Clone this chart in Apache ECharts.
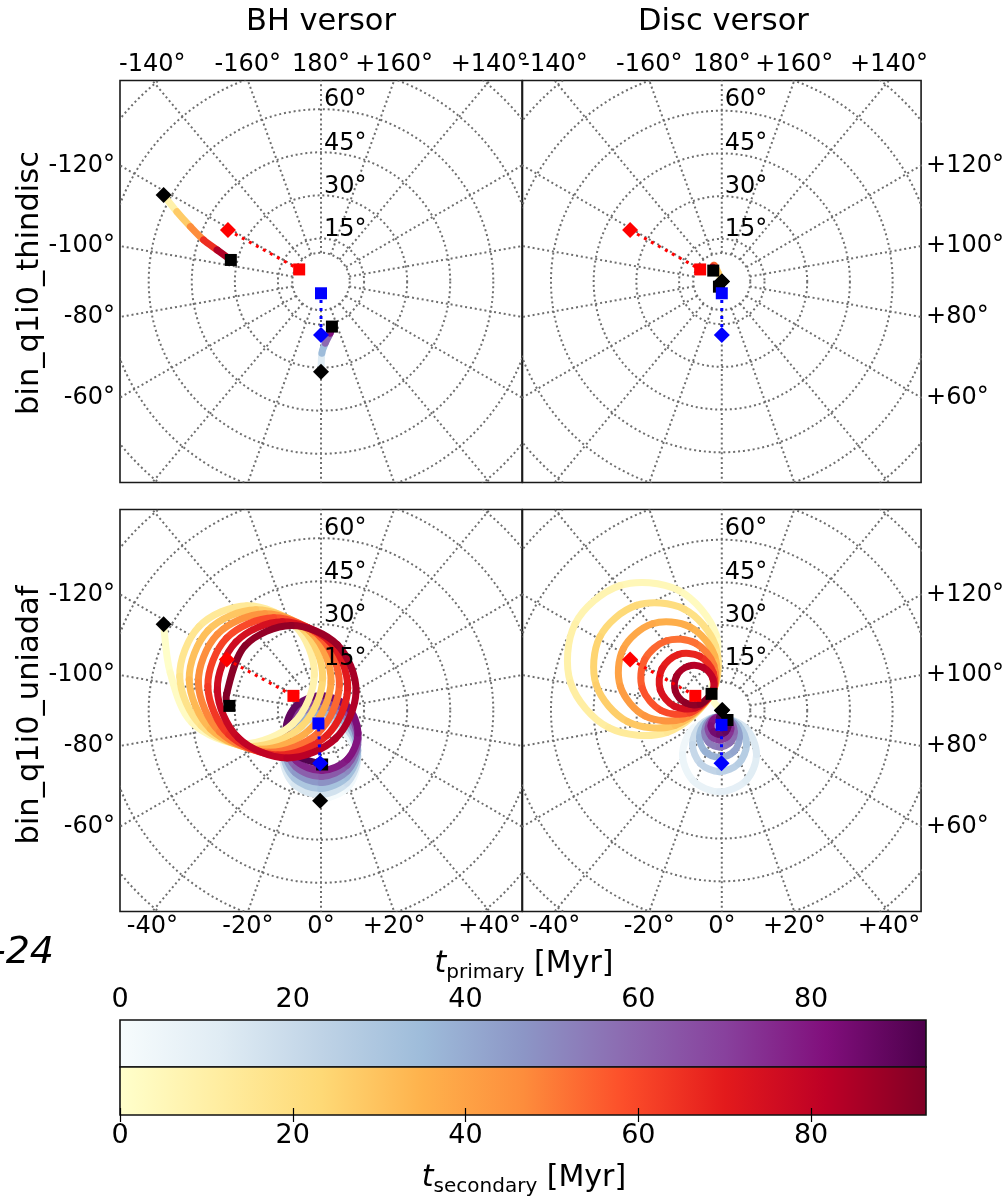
<!DOCTYPE html>
<html>
<head>
<meta charset="utf-8">
<script src="https://cdn.jsdelivr.net/npm/echarts@6/dist/echarts.min.js"></script>
<style>
html,body{margin:0;padding:0;background:#fff;}
#main{width:1007px;height:1197px;}
</style>
</head>
<body>
<div id="main"></div>
<script>
// ---------- grid / tick values ----------
const tMax = 93.3;                                   // Myr, colour scale limit
const colatRings = [10, 15, 30, 45, 60, 75, 90];      // parallels (deg from pole)
const ringLabels = [15, 30, 45, 60];
const meridians = [-180,-160,-140,-120,-100,-80,-60,-40,-20,0,20,40,60,80,100,120,140,160];
const topLonTicks = [-140, -160, 180, 160, 140];
const bottomLonTicks = [-40, -20, 0, 20, 40];
const leftLonTicks = [-120, -100, -80, -60];
const rightLonTicks = [120, 100, 80, 60];
const cbarTicks = [0, 20, 40, 60, 80];

// ---------- tracks: [x, y, t] on the azimuthal plane (deg), t in Myr ----------
// bin_q1i0_thindisc, BH versor
const thinBhSecondary = [[-54.8,30.1,0],[-50.2,24.3,18],[-45.5,19.1,37],[-40.9,14.5,56],[-36.2,11.0,75],[-31.4,7.5,93.3]];
const thinBhPrimary = [[0,-31.4,0],[0.3,-25.0,23],[1.5,-21.5,47],[3.2,-18.0,70],[3.8,-15.7,93.3]];
const thinBhStart = [[-54.8,30.1],[0,-31.4]];
const thinBhEnd = [[-31.4,7.5],[3.8,-15.7]];
const thinBhRedAxis = [[-32.4,17.9],[-7.6,4.2]];
const thinBhBlueAxis = [[0,-18.6],[0,-4.1]];

// bin_q1i0_thindisc, disc versor
const thinDiscSecondary = [[0,0,0],[-1.2,3.0,15],[-2.6,5.6,40],[-3.2,5.0,70],[-3.0,3.8,93.3]];
const thinDiscPrimary = [[0,0,0],[-0.5,-1.0,45],[-1.0,-1.8,93.3]];
const thinDiscStart = [[0.1,0],[0,0]];
const thinDiscEnd = [[-3.0,3.8],[-1.0,-1.8]];
const thinDiscRedAxis = [[-32.2,17.9],[-7.6,4.2]];
const thinDiscBlueAxis = [[0,-18.6],[0,-4.1]];

// bin_q1i0_uniadaf, BH versor
const adafBhSecondary = [[-54.8,30.0,0],
 [-52.5,13.1,1.5],[-44.9,-4.3,3.4],[-27.3,-11.6,5.3],[-9.7,-4.5,7.2],[-2.3,12.5,9.1],[-9.0,29.5,11.0],[-25.8,36.5,12.9],[-42.5,29.2,14.8],
 [-49.2,11.9,16.7],[-41.7,-5.3,18.6],[-24.3,-12.5,20.5],[-6.8,-5.6,22.4],[0.6,11.3,24.3],[-6.1,28.2,26.1],[-22.7,35.1,28.0],[-39.3,27.9,29.9],
 [-45.9,10.7,31.8],[-38.5,-6.4,33.7],[-21.2,-13.5,35.6],[-3.9,-6.6,37.5],[3.5,10.1,39.4],[-3.1,26.9,41.3],[-19.6,33.7,43.2],[-36.1,26.5,45.1],
 [-42.7,9.6,47.0],[-35.3,-7.4,48.9],[-18.1,-14.5,50.8],[-0.9,-7.7,52.7],[6.4,9.0,54.6],[-0.2,25.6,56.5],[-16.5,32.3,58.4],[-32.9,25.2,60.3],
 [-39.4,8.4,62.2],[-32.1,-8.4,64.1],[-15.0,-15.5,66.0],[2.0,-8.7,67.9],[9.3,7.8,69.7],[2.8,24.2,71.6],[-13.5,30.9,73.5],[-29.6,23.9,75.4],
 [-36.1,7.2,77.3],[-28.8,-9.5,79.2],[-11.9,-16.5,81.1],[5.0,-9.8,83.0],[12.2,6.6,84.9],[5.7,22.9,86.8],[-10.4,29.6,88.7],[-26.4,22.6,90.6],
 [-32.8,6.0,92.5],[-31.9,1.6,93.3]];
const adafBhPrimary = [
 [-0.3,-31.4,0],[8.9,-27.3,1.9],[12.7,-17.9,3.9],[8.9,-8.5,5.8],[-0.2,-4.4,7.8],[-9.4,-8.0,9.7],[-13.2,-16.9,11.7],[-9.3,-25.8,13.6],
 [-0.2,-29.3,15.6],[9.0,-25.3,17.5],[12.8,-15.9,19.4],[9.0,-6.5,21.4],[-0.1,-2.5,23.3],[-9.2,-6.0,25.3],[-13.0,-14.9,27.2],[-9.2,-23.7,29.2],
 [-0.1,-27.2,31.1],[9.0,-23.2,33.0],[12.8,-13.9,35.0],[9.0,-4.6,36.9],[0.0,-0.6,38.9],[-9.0,-4.1,40.8],[-12.8,-12.9,42.8],[-9.0,-21.6,44.7],
 [0.1,-25.1,46.7],[9.1,-21.1,48.6],[12.8,-11.9,50.5],[9.1,-2.6,52.5],[0.1,1.4,54.4],[-8.9,-2.1,56.4],[-12.6,-10.8,58.3],[-8.8,-19.6,60.3],
 [0.2,-23.0,62.2],[9.1,-19.0,64.1],[12.9,-9.8,66.1],[9.1,-0.6,68.0],[0.2,3.3,70.0],[-8.7,-0.2,71.9],[-12.4,-8.8,73.9],[-8.6,-17.5,75.8],
 [0.3,-20.9,77.8],[9.2,-17.0,79.7],[12.9,-7.8,81.6],[9.2,1.3,83.6],[0.3,5.2,85.5],[-8.5,1.8,87.5],[-12.2,-6.8,89.4],[-8.5,-15.4,91.4],
 [0.4,-18.8,93.3]];
const adafBhStart = [[-54.8,30.0],[-0.3,-31.4]];
const adafBhEnd = [[-31.9,1.6],[0.4,-18.8]];
const adafBhRedAxis = [[-32.8,17.8],[-9.6,5.1]];
const adafBhBlueAxis = [[-0.3,-18.4],[-0.9,-4.5]];

// bin_q1i0_uniadaf, disc versor
const adafDiscSecondary = [[0.2,0.2,0],[-3.6,5.8,0.5],
 [-1.9,26.2,2.4],[-15.3,41.9,4.4],[-35.8,43.5,6.3],[-51.5,30.2,8.2],[-53.1,9.6,10.2],[-39.7,-6.0,12.1],[-19.2,-7.6,14.0],[-3.6,5.8,16.0],
 [-2.2,22.5,17.9],[-13.2,35.3,19.8],[-30.0,36.6,21.8],[-42.8,25.7,23.7],[-44.1,8.9,25.6],[-33.1,-3.9,27.6],[-16.4,-5.2,29.5],[-3.6,5.8,31.4],
 [-2.5,19.0,33.4],[-11.2,29.1,35.3],[-24.4,30.2,37.2],[-34.6,21.5,39.2],[-35.6,8.3,41.1],[-27.0,-1.9,43.0],[-13.7,-2.9,45.0],[-3.6,5.8,46.9],
 [-2.8,15.8,48.8],[-9.3,23.5,50.8],[-19.4,24.3,52.7],[-27.1,17.7,54.6],[-27.9,7.7,56.6],[-21.3,0.0,58.5],[-11.2,-0.8,60.4],[-3.6,5.8,62.4],
 [-3.0,13.2,64.3],[-7.8,18.9,66.2],[-15.3,19.5,68.2],[-21.0,14.6,70.1],[-21.6,7.2,72.0],[-16.7,1.5,74.0],[-9.3,0.9,75.9],[-3.6,5.8,77.8],
 [-3.1,11.0,79.8],[-6.6,15.0,81.7],[-11.8,15.4,83.6],[-15.9,12.0,85.6],[-16.3,6.7,87.5],[-12.8,2.7,89.4],[-7.6,2.3,91.4],[-3.6,5.8,93.3]];
const adafDiscPrimary = [[0,0,0],[-0.8,-2.3,0.5],
 [-10.0,-6.1,2.4],[-13.8,-15.3,4.4],[-10.0,-24.5,6.3],[-0.8,-28.3,8.2],[8.4,-24.5,10.2],[12.2,-15.3,12.1],[8.4,-6.1,14.0],[-0.8,-2.3,16.0],
 [-7.5,-5.1,17.9],[-10.3,-11.8,19.8],[-7.5,-18.5,21.8],[-0.8,-21.3,23.7],[5.9,-18.5,25.6],[8.7,-11.8,27.6],[5.9,-5.1,29.5],[-0.8,-2.3,31.4],
 [-5.8,-4.4,33.4],[-7.8,-9.3,35.3],[-5.8,-14.3,37.2],[-0.8,-16.3,39.2],[4.2,-14.3,41.1],[6.2,-9.3,43.0],[4.2,-4.4,45.0],[-0.8,-2.3,46.9],
 [-4.5,-3.8,48.8],[-6.0,-7.5,50.8],[-4.5,-11.2,52.7],[-0.8,-12.7,54.6],[2.9,-11.2,56.6],[4.4,-7.5,58.5],[2.9,-3.8,60.4],[-0.8,-2.3,62.4],
 [-3.6,-3.5,64.3],[-4.8,-6.3,66.2],[-3.6,-9.1,68.2],[-0.8,-10.3,70.1],[2.0,-9.1,72.0],[3.2,-6.3,74.0],[2.0,-3.5,75.9],[-0.8,-2.3,77.8],
 [-2.9,-3.2,79.8],[-3.8,-5.3,81.7],[-2.9,-7.4,83.6],[-0.8,-8.3,85.6],[1.3,-7.4,87.5],[2.2,-5.3,89.4],[1.3,-3.2,91.4],[-0.8,-2.3,93.3]];
const adafDiscStart = [[0.2,0.2],[0,0]];
const adafDiscEnd = [[-3.6,5.8],[2.0,-3.3]];
const adafDiscRedAxis = [[-32.2,17.8],[-9.3,5.1]];
const adafDiscBlueAxis = [[-0.1,-18.4],[-0.1,-5.0]];

// ---------- styling ----------
const FONT = 'DejaVu Sans';
const YlOrRd = ['#ffffcc','#ffeda0','#fed976','#feb24c','#fd8d3c','#fc4e2a','#e31a1c','#bd0026','#800026'];
const BuPu = ['#f7fcfd','#e0ecf4','#bfd3e6','#9ebcda','#8c96c6','#8c6bb1','#88419d','#810f7c','#4d004b'];
const SPAN = 70;          // half extent of each panel (deg on the projection plane)
const PANEL = 402;        // panel size in px
const panelBoxes = [
  {left: 120, top: 80.5, xPos: 'top', yPos: 'left'},
  {left: 522.5, top: 80.5, xPos: 'top', yPos: 'right'},
  {left: 120, top: 509.5, xPos: 'bottom', yPos: 'left'},
  {left: 522.5, top: 509.5, xPos: 'bottom', yPos: 'right'}
];
const panels = [
  {sec: thinBhSecondary, pri: thinBhPrimary, start: thinBhStart, end: thinBhEnd, red: thinBhRedAxis, blue: thinBhBlueAxis},
  {sec: thinDiscSecondary, pri: thinDiscPrimary, start: thinDiscStart, end: thinDiscEnd, red: thinDiscRedAxis, blue: thinDiscBlueAxis},
  {sec: adafBhSecondary, pri: adafBhPrimary, start: adafBhStart, end: adafBhEnd, red: adafBhRedAxis, blue: adafBhBlueAxis},
  {sec: adafDiscSecondary, pri: adafDiscPrimary, start: adafDiscStart, end: adafDiscEnd, red: adafDiscRedAxis, blue: adafDiscBlueAxis}
];

const rad = d => d * Math.PI / 180;
const lonText = l => (l > 0 && l !== 180 ? '+' : '') + l + '\u00b0';

// where a meridian leaves the panel through each edge
const edgePos = {
  top: l => -SPAN * Math.tan(rad(l)),
  bottom: l => SPAN * Math.tan(rad(l)),
  left: l => SPAN / Math.tan(rad(l)),
  right: l => -SPAN / Math.tan(rad(l))
};
function edgeLabel(side, lons) {
  const pos = lons.map(edgePos[side]);
  return {
    values: pos,
    fmt: v => {
      let best = 0;
      pos.forEach((p, i) => { if (Math.abs(p - v) < Math.abs(pos[best] - v)) best = i; });
      return lonText(lons[best]);
    }
  };
}

// ---------- renderers ----------
const gridStyle = {fill: 'none', stroke: '#6e6e6e', lineWidth: 2, lineDash: [2, 2.9]};
function renderRing(params, api) {
  const c = api.coord([0, 0]);
  const r = api.size([api.value(2), 0])[0];
  return {type: 'circle', shape: {cx: c[0], cy: c[1], r: r}, style: gridStyle};
}
function renderSpoke(params, api) {
  const l = rad(api.value(2));
  const a = api.coord([colatRings[0] * Math.sin(l), -colatRings[0] * Math.cos(l)]);
  const b = api.coord([110 * Math.sin(l), -110 * Math.cos(l)]);
  return {type: 'line', shape: {x1: a[0], y1: a[1], x2: b[0], y2: b[1]}, style: gridStyle};
}
// coloured track segment, smoothed as a Catmull-Rom spline
function renderTrack(params, api) {
  const p0 = api.coord([api.value(0), api.value(1)]);
  const p1 = api.coord([api.value(2), api.value(3)]);
  const pa = api.coord([api.value(5), api.value(6)]);
  const pb = api.coord([api.value(7), api.value(8)]);
  return {
    type: 'bezierCurve',
    shape: {
      x1: p0[0], y1: p0[1], x2: p1[0], y2: p1[1],
      cpx1: p0[0] + (p1[0] - pa[0]) / 6, cpy1: p0[1] + (p1[1] - pa[1]) / 6,
      cpx2: p1[0] - (pb[0] - p0[0]) / 6, cpy2: p1[1] - (pb[1] - p0[1]) / 6
    },
    style: {fill: 'none', stroke: api.visual('color'), lineWidth: 7, lineCap: 'round'}
  };
}
function toSegments(pts) {
  const out = [], n = pts.length;
  for (let i = 0; i < n - 1; i++) {
    const a = pts[Math.max(i - 1, 0)], p0 = pts[i], p1 = pts[i + 1], b = pts[Math.min(i + 2, n - 1)];
    out.push([p0[0], p0[1], p1[0], p1[1], (p0[2] + p1[2]) / 2, a[0], a[1], b[0], b[1]]);
  }
  return out;
}

// ---------- build option ----------
const grids = [], xAxes = [], yAxes = [], series = [];
const redTracks = [], blueTracks = [];
const tickFont = {fontFamily: FONT, fontSize: 24, color: '#000'};

panelBoxes.forEach((b, i) => {
  grids.push({left: b.left, top: b.top, width: PANEL, height: PANEL, show: true,
    borderColor: '#1a1a1a', borderWidth: 1.6, backgroundColor: 'transparent'});
  const xl = edgeLabel(b.xPos, b.xPos === 'top' ? topLonTicks : bottomLonTicks);
  const yl = edgeLabel(b.yPos, b.yPos === 'left' ? leftLonTicks : rightLonTicks);
  xAxes.push({gridIndex: i, type: 'value', min: -SPAN, max: SPAN, position: b.xPos,
    axisLine: {show: false}, axisTick: {show: false}, splitLine: {show: false},
    axisLabel: Object.assign({customValues: xl.values, formatter: xl.fmt, margin: b.xPos === 'top' ? 4 : 3}, tickFont)});
  yAxes.push({gridIndex: i, type: 'value', min: -SPAN, max: SPAN, position: b.yPos,
    axisLine: {show: false}, axisTick: {show: false}, splitLine: {show: false},
    axisLabel: Object.assign({customValues: yl.values, formatter: yl.fmt, margin: 5}, tickFont)});

  const p = panels[i];
  const base = {xAxisIndex: i, yAxisIndex: i, silent: true, animation: false};
  series.push(Object.assign({type: 'custom', clip: true, z: 1, renderItem: renderRing,
    data: colatRings.map(c => [0, 0, c])}, base));
  series.push(Object.assign({type: 'custom', clip: true, z: 1, renderItem: renderSpoke,
    data: meridians.map(l => [0, 0, l])}, base));
  series.push(Object.assign({type: 'scatter', z: 6, symbolSize: 0,
    data: ringLabels.map(c => [0, c]),
    label: Object.assign({show: true, position: [3, -9], align: 'left', verticalAlign: 'middle',
      textBorderWidth: 0, opacity: 1, formatter: q => q.value[1] + '\u00b0'}, tickFont)}, base));
  blueTracks.push(series.length);
  series.push(Object.assign({type: 'custom', z: 2, renderItem: renderTrack, data: toSegments(p.pri)}, base));
  redTracks.push(series.length);
  series.push(Object.assign({type: 'custom', z: 3, renderItem: renderTrack, data: toSegments(p.sec)}, base));
  series.push(Object.assign({type: 'line', z: 4, symbol: 'none', data: p.red,
    lineStyle: {color: '#ff0000', width: 3, type: [3, 5]}}, base));
  series.push(Object.assign({type: 'line', z: 4, symbol: 'none', data: p.blue,
    lineStyle: {color: '#0000ff', width: 3, type: [3, 5]}}, base));
  const mk = (data, symbol, size, color, z) => Object.assign({type: 'scatter', z: z, symbol: symbol,
    symbolSize: size, data: data, itemStyle: {color: color, opacity: 1}}, base);
  series.push(mk(p.start, 'diamond', 16, '#000000', 5));
  series.push(mk(p.end, 'rect', 12, '#000000', 5));
  series.push(mk([p.red[0]], 'diamond', 16, '#ff0000', 5.5));
  series.push(mk([p.red[1]], 'rect', 12, '#ff0000', 5.5));
  series.push(mk([p.blue[0]], 'diamond', 16, '#0000ff', 5.5));
  series.push(mk([p.blue[1]], 'rect', 12, '#0000ff', 5.5));
});

// colour bar axes
grids.push({left: 120, top: 1020, width: 806, height: 95, show: false});
const cbAxis = pos => ({gridIndex: 4, type: 'value', min: 0, max: tMax, position: pos, z: 10,
  axisLine: {show: false}, splitLine: {show: false},
  axisTick: {show: true, inside: true, length: 7, customValues: cbarTicks, lineStyle: {color: '#000', width: 1.2}},
  axisLabel: {customValues: cbarTicks, margin: 7, fontFamily: FONT, fontSize: 27, color: '#000'}});
xAxes.push(cbAxis('top'), cbAxis('bottom'));
yAxes.push({gridIndex: 4, type: 'value', show: false});

const grad = cols => new echarts.graphic.LinearGradient(0, 0, 1, 0,
  cols.map((c, i) => ({offset: i / (cols.length - 1), color: c})));

const subLabel = (x, y, sub) => ({type: 'text', x: x, y: y, style: {
  text: '{t|t}{s|' + sub + '}{n| [Myr]}', align: 'center', verticalAlign: 'middle',
  rich: {
    t: {fontFamily: FONT, fontSize: 30, fontStyle: 'italic', fill: '#000'},
    s: {fontFamily: FONT, fontSize: 20, fill: '#000', padding: [18, 0, 0, 0]},
    n: {fontFamily: FONT, fontSize: 30, fill: '#000'}
  }}});

const option = {
  animation: false,
  backgroundColor: '#ffffff',
  grid: grids, xAxis: xAxes, yAxis: yAxes, series: series,
  visualMap: [
    {type: 'continuous', show: false, min: 0, max: tMax, dimension: 4, seriesIndex: redTracks, inRange: {color: YlOrRd}},
    {type: 'continuous', show: false, min: 0, max: tMax, dimension: 4, seriesIndex: blueTracks, inRange: {color: BuPu}}
  ],
  graphic: [
    {type: 'rect', z: 1, shape: {x: 120, y: 1020, width: 806, height: 47}, style: {fill: grad(BuPu), stroke: '#111', lineWidth: 1.6}},
    {type: 'rect', z: 1, shape: {x: 120, y: 1067, width: 806, height: 48}, style: {fill: grad(YlOrRd), stroke: '#111', lineWidth: 1.6}},
    {type: 'text', x: 321, y: 22, style: {text: 'BH versor', fontFamily: FONT, fontSize: 30.5, fill: '#000', align: 'center', verticalAlign: 'middle'}},
    {type: 'text', x: 723.5, y: 22, style: {text: 'Disc versor', fontFamily: FONT, fontSize: 30.5, fill: '#000', align: 'center', verticalAlign: 'middle'}},
    {type: 'text', x: 30, y: 283, rotation: Math.PI / 2, style: {text: 'bin_q1i0_thindisc', fontFamily: FONT, fontSize: 30.5, fill: '#000', align: 'center', verticalAlign: 'middle'}},
    {type: 'text', x: 30, y: 715, rotation: Math.PI / 2, style: {text: 'bin_q1i0_uniadaf', fontFamily: FONT, fontSize: 30.5, fill: '#000', align: 'center', verticalAlign: 'middle'}},
    {type: 'text', x: 54, y: 953, style: {text: '-24', fontFamily: FONT, fontSize: 38, fontStyle: 'italic', fill: '#000', align: 'right', verticalAlign: 'middle'}},
    subLabel(524, 964, 'primary'),
    subLabel(524, 1178, 'secondary')
  ]
};

const chart = echarts.init(document.getElementById('main'), null, {renderer: 'canvas', width: 1007, height: 1197});
chart.setOption(option);
</script>
</body>
</html>
